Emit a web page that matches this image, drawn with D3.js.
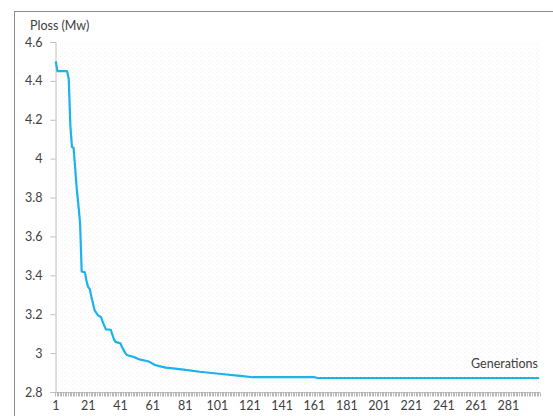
<!DOCTYPE html>
<html>
<head>
<meta charset="utf-8">
<script src="https://cdn.jsdelivr.net/npm/d3@7/dist/d3.min.js"></script>
<style>
  html, body { margin: 0; padding: 0; background: #fff; }
  svg { display: block; font-family: Lato, "Open Sans", sans-serif; }
</style>
</head>
<body>
<svg id="chart" width="553" height="416"></svg>
<script>
// ---- data ----
const generationCount = 300;
// vertices of the convergence curve: generation number and Ploss (MW)
const vertexGenerations = [1, 2, 8, 9, 10, 11, 12, 13, 14, 15, 16, 17, 19, 20, 21, 22, 23, 25, 27, 29, 30, 32, 35, 37, 38, 41, 42, 44, 45, 47, 50, 52, 54, 58, 60, 62, 65, 69, 75, 80, 90, 102, 115, 123, 161, 163, 300];
const vertexPloss = [4.50, 4.45, 4.45, 4.41, 4.17, 4.06, 4.055, 3.95, 3.84, 3.76, 3.67, 3.42, 3.415, 3.37, 3.34, 3.33, 3.29, 3.22, 3.195, 3.185, 3.16, 3.122, 3.12, 3.07, 3.058, 3.05, 3.03, 3.0, 2.99, 2.985, 2.978, 2.97, 2.965, 2.958, 2.95, 2.94, 2.933, 2.925, 2.92, 2.915, 2.904, 2.894, 2.883, 2.876, 2.876, 2.872, 2.872];
const yTicks = [2.8, 3, 3.2, 3.4, 3.6, 3.8, 4, 4.2, 4.4, 4.6];
const xTickLabels = [1, 21, 41, 61, 81, 101, 121, 141, 161, 181, 201, 221, 241, 261, 281];
const yTitle = "Ploss (Mw)";
const xTitle = "Generations";

(function () {
const generations = d3.range(1, generationCount + 1);

const svg = d3.select("#chart");
const pLeft = 55, pRight = 540, pTop = 42, pBottom = 392;

// outer chart border
svg.append("rect").attr("x", 14.5).attr("y", 11.5).attr("width", 560).attr("height", 420)
  .attr("fill", "none").attr("stroke", "#8c8c8c").attr("stroke-width", 1);

// faint plot-area texture
const defs = svg.append("defs");
const pat = defs.append("pattern").attr("id", "dots").attr("width", 4).attr("height", 4)
  .attr("patternUnits", "userSpaceOnUse");
pat.append("rect").attr("x", 0).attr("y", 0).attr("width", 1).attr("height", 1).attr("fill", "#f1f1f1");
pat.append("rect").attr("x", 2).attr("y", 2).attr("width", 1).attr("height", 1).attr("fill", "#f1f1f1");
svg.append("rect").attr("x", pLeft).attr("y", pTop).attr("width", pRight - pLeft).attr("height", pBottom - pTop)
  .attr("fill", "url(#dots)");

const x = d3.scaleBand().domain(generations).range([pLeft, pRight]).paddingInner(0).paddingOuter(0);
const y = d3.scaleLinear().domain([2.8, 4.6]).range([pBottom, pTop]);

// y axis
const yAxis = svg.append("g").attr("transform", `translate(${pLeft + 0.5},0)`)
  .call(d3.axisLeft(y).tickValues(yTicks).tickSize(5).tickPadding(8).tickFormat(d3.format("~g")));
yAxis.select(".domain").attr("stroke", "#bfbfbf");
yAxis.selectAll(".tick line").attr("stroke", "#bfbfbf");
yAxis.selectAll(".tick text").attr("fill", "#404040").style("font-size", "12.5px")
  .style("font-family", "Lato, 'Open Sans', sans-serif");

// x axis: a tick mark between every category
const xg = svg.append("g").attr("transform", `translate(0,${pBottom + 0.5})`);
xg.append("line").attr("x1", pLeft).attr("x2", pRight).attr("stroke", "#bfbfbf");
const boundaries = generations.map(g => x(g)).concat([pRight]);
xg.selectAll("line.tk").data(boundaries).join("line").attr("class", "tk")
  .attr("x1", d => Math.round(d) + 0.5).attr("x2", d => Math.round(d) + 0.5)
  .attr("y1", 0).attr("y2", 4).attr("stroke", "#a6a6a6").attr("stroke-width", 0.8);
xg.selectAll("text").data(xTickLabels).join("text")
  .attr("x", d => x(d) + x.bandwidth() / 2).attr("y", 17)
  .attr("text-anchor", "middle").attr("fill", "#404040").style("font-size", "12.5px").text(d => d);

// line
const line = d3.line().x((d, i) => x(vertexGenerations[i]) + x.bandwidth() / 2).y(d => y(d));
svg.append("path").datum(vertexPloss).attr("d", line)
  .attr("fill", "none").attr("stroke", "#1cb2ec").attr("stroke-width", 2.2).attr("stroke-linejoin", "round");

// titles
svg.append("text").attr("x", 30).attr("y", 30).attr("fill", "#404040").style("font-size", "12.5px").text(yTitle);
svg.append("text").attr("x", 538).attr("y", 368).attr("text-anchor", "end").attr("fill", "#404040")
  .style("font-size", "12.5px").text(xTitle);
})();
</script>
</body>
</html>
